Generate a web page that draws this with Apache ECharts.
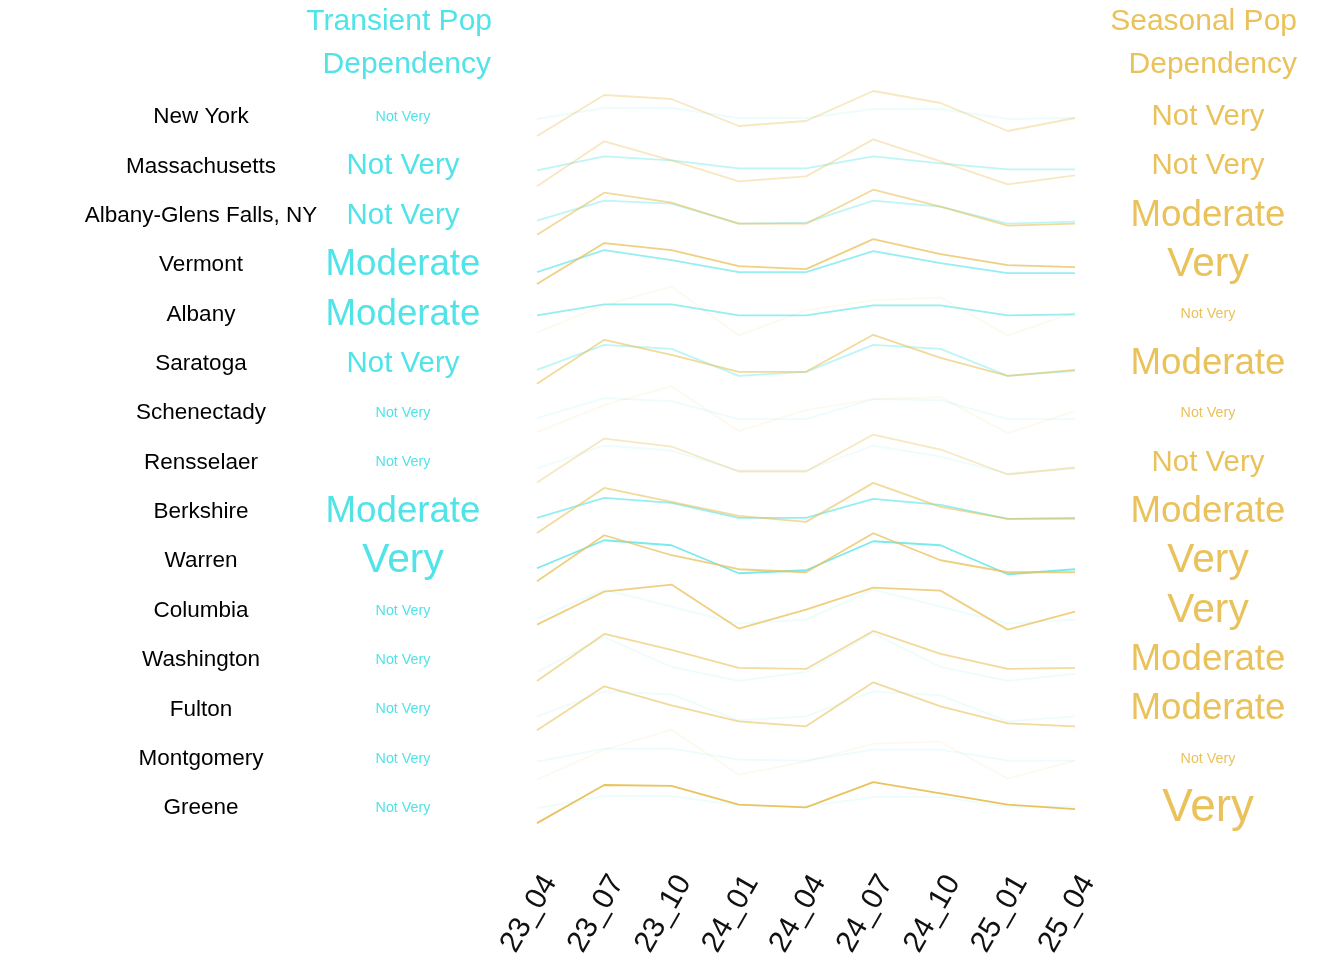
<!DOCTYPE html>
<html><head><meta charset="utf-8">
<script src="https://cdn.jsdelivr.net/npm/echarts@6/dist/echarts.min.js"></script>
<style>html,body{margin:0;padding:0;background:#fff}#c{width:1344px;height:960px}</style>
</head><body><div id="c"></div>
<script>
const periods = ['23_04','23_07','23_10','24_01','24_04','24_07','24_10','25_01','25_04'];
const regions = ['New York','Massachusetts','Albany-Glens Falls, NY','Vermont','Albany','Saratoga','Schenectady','Rensselaer','Berkshire','Warren','Columbia','Washington','Fulton','Montgomery','Greene'];
const transientLevel = ['Not Very','Not Very','Not Very','Moderate','Moderate','Not Very','Not Very','Not Very','Moderate','Very','Not Very','Not Very','Not Very','Not Very','Not Very'];
const seasonalLevel  = ['Not Very','Not Very','Moderate','Very','Not Very','Moderate','Not Very','Not Very','Moderate','Very','Very','Moderate','Moderate','Not Very','Very'];
const transientScore = [0,0.48,0.48,0.71,0.71,0.48,0,0,0.71,0.84,0,0,0,0,0];
const seasonalScore  = [0.48,0.48,0.71,0.84,0,0.71,0,0.48,0.71,0.84,0.84,0.71,0.71,0,1.0];
// relative activity index per region, one value per period
const transientIndex = [
  [31,42,42,32,32,41,41,31,32],
  [29,43,39,31,31,43,36,30,30],
  [28,48,45,25,26,48,42,25,27],
  [26,48,38,26,26,47,35,25,25],
  [32,43,43,32,32,42,42,32,33],
  [27,52,48,21,25,52,48,21,26],
  [28,48,45,27,27,47,46,27,27],
  [27,50,45,25,25,50,39,22,27],
  [27,47,42,27,27,46,40,26,27],
  [26,54,49,21,24,53,49,20,25],
  [25,54,37,20,24,54,37,20,24],
  [21,56,26,12,21,60,26,12,19],
  [26,51,48,22,26,51,47,21,26],
  [30,43,43,32,31,42,42,31,31],
  [30,43,43,33,32,42,42,32,32]
];
const seasonalIndex = [
  [14,55,51,24,29,59,47,19,32],
  [13,58,39,18,23,60,38,15,24],
  [14,56,46,25,25,59,42,23,25],
  [14,55,48,32,29,59,44,33,31],
  [15,42,61,12,37,47,50,12,35],
  [13,57,42,25,25,62,39,21,27],
  [14,41,60,15,36,47,49,13,35],
  [13,57,49,24,24,61,46,21,28],
  [12,57,43,29,23,62,38,26,26],
  [13,59,39,25,22,61,34,22,22],
  [19,52,59,15,34,56,53,14,32],
  [12,59,43,25,24,62,39,24,25],
  [12,56,37,21,16,60,36,19,16],
  [12,42,62,17,30,48,50,13,31],
  [14,55,54,34,31,58,46,34,29]
];

const CYAN = '#50E3E8', GOLD = '#EAC25C';
const FONT = "'Liberation Sans', Arial, sans-serif";
const rowTop = 115, rowStep = 49.36, half = 35, tdy = 2;
const opacityOf = s => 0.1 + 0.88 * Math.pow(s, 1.6);
const sizeOf = s => 14.3 + 31.5 * s;

const grid = [], xAxis = [], yAxis = [], series = [], graphic = [];
regions.forEach((r, i) => {
  const c = rowTop + rowStep * i;
  const last = i === regions.length - 1;
  grid.push({left: 537, width: 538, top: c - half, height: half * 2});
  xAxis.push({type: 'category', gridIndex: i, data: periods, boundaryGap: false,
    axisLine: {show: false}, axisTick: {show: false}, splitLine: {show: false},
    axisLabel: {show: last, rotate: 60, fontSize: 30, color: '#111', fontFamily: FONT, margin: 34, interval: 0, verticalAlign: 'top'}});
  yAxis.push({type: 'value', gridIndex: i, min: 0, max: half * 2, show: false});
  series.push({type: 'line', xAxisIndex: i, yAxisIndex: i, data: transientIndex[i], symbol: 'none', silent: true,
    lineStyle: {color: CYAN, width: 1.8, opacity: opacityOf(transientScore[i])}});
  series.push({type: 'line', xAxisIndex: i, yAxisIndex: i, data: seasonalIndex[i], symbol: 'none', silent: true,
    lineStyle: {color: GOLD, width: 1.8, opacity: opacityOf(seasonalScore[i])}});
  graphic.push({type: 'text', x: 201, y: c + tdy, style: {text: r, fill: '#000', font: `22.5px ${FONT}`, textAlign: 'center', textVerticalAlign: 'middle'}});
  graphic.push({type: 'text', x: 403, y: c + tdy, style: {text: transientLevel[i], fill: CYAN, font: `${sizeOf(transientScore[i])}px ${FONT}`, textAlign: 'center', textVerticalAlign: 'middle'}});
  graphic.push({type: 'text', x: 1208, y: c + tdy, style: {text: seasonalLevel[i], fill: GOLD, font: `${sizeOf(seasonalScore[i])}px ${FONT}`, textAlign: 'center', textVerticalAlign: 'middle'}});
});
graphic.push({type: 'text', x: 492, y: 22, style: {text: 'Transient Pop', fill: CYAN, font: `30px ${FONT}`, textAlign: 'right', textVerticalAlign: 'middle'}});
graphic.push({type: 'text', x: 491, y: 65, style: {text: 'Dependency', fill: CYAN, font: `30px ${FONT}`, textAlign: 'right', textVerticalAlign: 'middle'}});
graphic.push({type: 'text', x: 1297, y: 22, style: {text: 'Seasonal Pop', fill: GOLD, font: `30px ${FONT}`, textAlign: 'right', textVerticalAlign: 'middle'}});
graphic.push({type: 'text', x: 1297, y: 65, style: {text: 'Dependency', fill: GOLD, font: `30px ${FONT}`, textAlign: 'right', textVerticalAlign: 'middle'}});

const chart = echarts.init(document.getElementById('c'), null, {renderer: 'canvas'});
chart.setOption({animation: false, backgroundColor: '#fff', grid, xAxis, yAxis, series, graphic});
</script></body></html>
